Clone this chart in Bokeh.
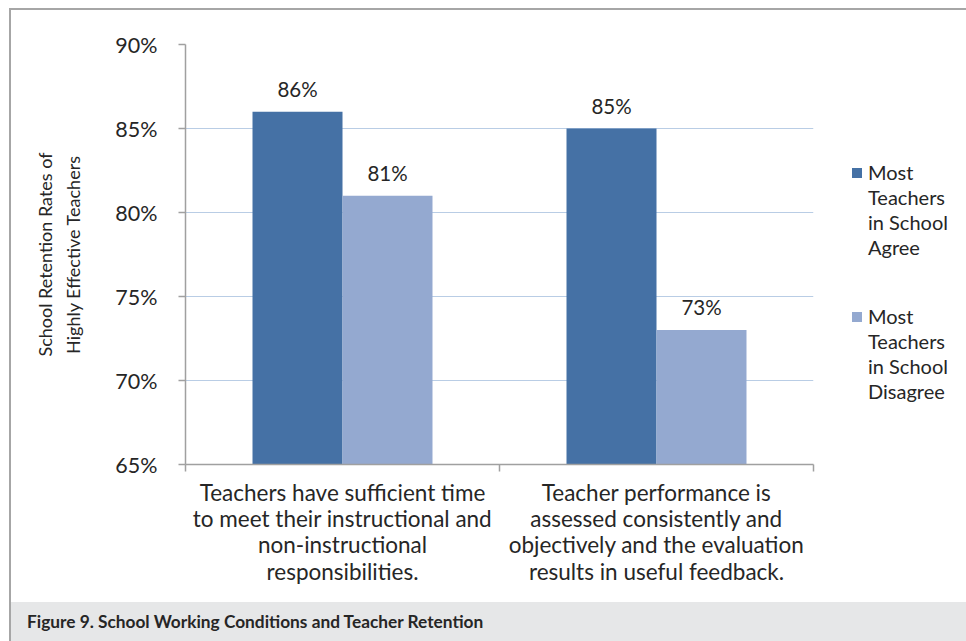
from bokeh.plotting import figure
from bokeh.models import ColumnDataSource, FixedTicker, PrintfTickFormatter, Div, Range1d
from bokeh.layouts import column, row
from bokeh.embed import file_html
from bokeh.resources import INLINE
from bokeh.core.properties import value

# ---- data ----
categories = [
    "Teachers have sufficient time\nto meet their instructional and\nnon-instructional\nresponsibilities.",
    "Teacher performance is\nassessed consistently and\nobjectively and the evaluation\nresults in useful feedback.",
]
series_names = ["Most\nTeachers\nin School\nAgree", "Most\nTeachers\nin School\nDisagree"]
agree = [86, 85]
disagree = [81, 73]
y_ticks = [65, 70, 75, 80, 85, 90]
y_title = "School Retention Rates of\nHighly Effective Teachers"
caption = "Figure 9. School Working Conditions and Teacher Retention"
colors = ["#4571A5", "#94A9D0"]

FONT = "Lato"
TXT = "#262626"
AXIS = "#a0a0a0"

n = len(categories)
centers = [i + 0.5 for i in range(n)]
bw = 0.2866

src_a = ColumnDataSource(dict(x=[c - bw / 2 for c in centers], top=agree,
                              lab=[f"{v}%" for v in agree]))
src_d = ColumnDataSource(dict(x=[c + bw / 2 for c in centers], top=disagree,
                              lab=[f"{v}%" for v in disagree]))

p = figure(width=829, height=592, output_backend="svg", toolbar_location=None,
           x_range=Range1d(0, n), y_range=Range1d(y_ticks[0], y_ticks[-1]),
           min_border_left=174, min_border_right=27, min_border_top=34, min_border_bottom=138)
p.outline_line_color = None
p.background_fill_color = "white"
p.border_fill_color = "white"

p.vbar(x="x", top="top", bottom=y_ticks[0], width=bw, source=src_a,
       fill_color=colors[0], line_color=None)
p.vbar(x="x", top="top", bottom=y_ticks[0], width=bw, source=src_d,
       fill_color=colors[1], line_color=None)

for s in (src_a, src_d):
    p.text(x="x", y="top", text="lab", source=s, text_font=value(FONT),
           text_font_size="20.5px", text_color=TXT, text_align="center",
           text_baseline="alphabetic", y_offset=-23)

# grid
p.xgrid.visible = False
p.ygrid.ticker = FixedTicker(ticks=y_ticks)
p.ygrid.grid_line_color = "#b9cde5"
p.ygrid.grid_line_width = 1

# y axis
yax = p.yaxis[0]
yax.ticker = FixedTicker(ticks=y_ticks)
yax.formatter = PrintfTickFormatter(format="%d%%")
yax.axis_line_color = AXIS
yax.axis_line_width = 1.5
yax.major_tick_line_color = AXIS
yax.major_tick_line_width = 1.5
yax.major_tick_out = 7
yax.major_tick_in = 0
yax.minor_tick_line_color = None
yax.major_label_text_font = FONT
yax.major_label_text_font_size = "21.5px"
yax.major_label_text_color = TXT
yax.major_label_standoff = 21
yax.axis_label = y_title
yax.axis_label_text_font = FONT
yax.axis_label_text_font_size = "18px"
yax.axis_label_text_font_style = "normal"
yax.axis_label_text_color = TXT
yax.axis_label_text_line_height = 1.3
yax.axis_label_standoff = 28

# x axis
xax = p.xaxis[0]
xax.ticker = FixedTicker(ticks=centers, minor_ticks=list(range(n + 1)))
xax.major_label_overrides = {c: categories[i] for i, c in enumerate(centers)}
xax.axis_line_color = AXIS
xax.axis_line_width = 1.5
xax.major_tick_line_color = None
xax.major_tick_out = 0
xax.major_tick_in = 0
xax.minor_tick_line_color = AXIS
xax.minor_tick_line_width = 1.5
xax.minor_tick_out = 7
xax.minor_tick_in = 0
xax.major_label_text_font = FONT
xax.major_label_text_font_size = "22.5px"
xax.major_label_text_color = TXT
xax.major_label_text_line_height = 0.98
xax.major_label_standoff = 7

# legend (as HTML beside the plot)
leg_tops = [150, 294]
items = ""
for i, name in enumerate(series_names):
    t = leg_tops[i]
    items += (f'<div style="position:absolute;left:12px;top:{t + 8}px;width:10px;height:10px;'
              f'background:{colors[i]}"></div>'
              f'<div style="position:absolute;left:28px;top:{t}px;white-space:nowrap">'
              + name.replace("\n", "<br>") + '</div>')
legend_div = Div(width=126, height=592, margin=0,
                 text=(f'<div style="position:relative;width:126px;height:560px;background:white;'
                       f'font-family:{FONT};font-size:20px;line-height:25px;color:{TXT}">'
                       + items + '</div>'))

cap_div = Div(width=955, height=39, margin=0,
              text=(f'<div style="width:955px;height:39px;background:#e6e7e8;font-family:{FONT};'
                    f'font-weight:bold;font-size:17.3px;line-height:39px;padding-left:16px;'
                    f'box-sizing:border-box;color:{TXT};white-space:nowrap">{caption}</div>'))

layout = column(row(p, legend_div), cap_div, margin=(8, 0, 0, 9),
                styles={"border-left": "2px solid #a6a6a6", "border-top": "2px solid #a6a6a6"})

open("out.html", "w").write(file_html(layout, INLINE))
